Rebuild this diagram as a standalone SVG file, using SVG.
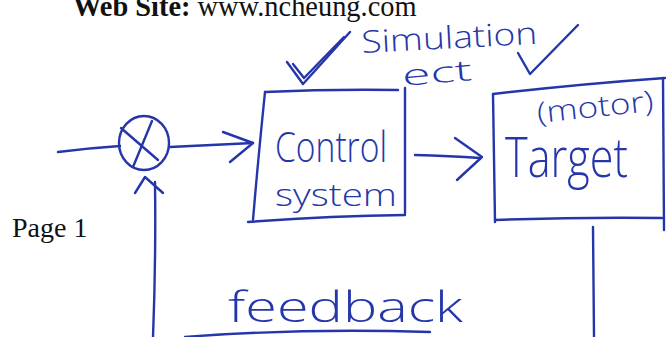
<svg xmlns="http://www.w3.org/2000/svg" width="668" height="337" viewBox="0 0 668 337">
  <style>
    .ink { fill: none; stroke: #2536aa; stroke-width: 2.4; stroke-linecap: round; stroke-linejoin: round; }
    .hand { font-family: "Open Sans", "Noto Sans", sans-serif; font-weight: 300; fill: #2536aa; }
    .print { font-family: "Liberation Serif", "Times New Roman", serif; fill: #111111; }
  </style>
  <rect width="668" height="337" fill="#ffffff"/>

  <!-- printed page header and footer -->
  <text class="print" x="73" y="16" font-size="28.4"><tspan font-weight="bold">Web Site:</tspan> www.ncheung.com</text>
  <text class="print" x="12" y="237" font-size="28">Page 1</text>

  <!-- annotations above the boxes -->
  <g id="annotations">
    <path class="ink" d="M287,62 L303,84 L350,32"/>
    <path class="ink" d="M293,64 L304,78 L344,37" stroke-width="1.6"/>
    <path class="ink" d="M518,53 L530,74 L578,25"/>
    <text class="hand" x="362" y="53" font-size="31" textLength="176" lengthAdjust="spacingAndGlyphs" transform="rotate(-3 362 53)">Simulation</text>
    <text class="hand" x="403" y="86" font-size="29" textLength="70" lengthAdjust="spacingAndGlyphs" transform="rotate(-5 403 86)">ect</text>
  </g>

  <!-- summing junction -->
  <g id="summing-junction">
    <ellipse class="ink" cx="144" cy="143" rx="25" ry="27"/>
    <path class="ink" d="M121,128 L158,160"/>
    <path class="ink" d="M152,121 L133,167"/>
  </g>

  <!-- control system block -->
  <g id="control-system">
    <path class="ink" d="M265,92 Q330,89 398,90"/>
    <path class="ink" d="M405,88 L405,213"/>
    <path class="ink" d="M265,92 Q258,160 253,220"/>
    <path class="ink" d="M248,222 Q330,216 405,215"/>
    <text class="hand" x="275" y="162" font-size="42" textLength="112" lengthAdjust="spacingAndGlyphs">Control</text>
    <text class="hand" x="275" y="206" font-size="32" textLength="122" lengthAdjust="spacingAndGlyphs">system</text>
  </g>

  <!-- target block -->
  <g id="target">
    <path class="ink" d="M493,94 Q580,84 665,78"/>
    <path class="ink" d="M663,78 L664,230"/>
    <path class="ink" d="M493,94 L495,222"/>
    <path class="ink" d="M495,220 Q580,217 662,218"/>
    <text class="hand" x="538" y="123" font-size="29" textLength="117" lengthAdjust="spacingAndGlyphs" transform="rotate(-6 538 123)">(motor)</text>
    <text class="hand" x="505" y="177" font-size="56" textLength="123" lengthAdjust="spacingAndGlyphs">Target</text>
  </g>

  <!-- signal paths -->
  <g id="connectors">
    <path class="ink" d="M58,152 Q90,148 120,146"/>
    <path class="ink" d="M170,147 Q210,145 253,143"/>
    <path class="ink" d="M223,132 L253,143 L230,162"/>
    <path class="ink" d="M415,155 Q450,156 480,158"/>
    <path class="ink" d="M455,138 L482,157 L457,180"/>
    <path class="ink" d="M593,227 L594,337"/>
    <path class="ink" d="M153,337 Q156,260 155,182"/>
    <path class="ink" d="M135,193 L145,177 L163,193"/>
    <path class="ink" d="M185,337 Q300,328 430,332"/>
  </g>

  <text class="hand" x="228" y="322" font-size="42" textLength="235" lengthAdjust="spacingAndGlyphs">feedback</text>
</svg>
